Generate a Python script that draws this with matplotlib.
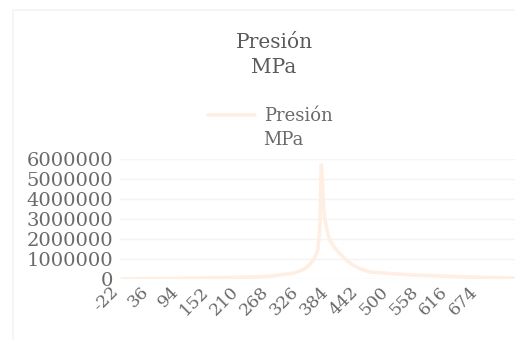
import numpy as np
import matplotlib.pyplot as plt
import matplotlib.transforms as mtransforms
from matplotlib.patches import Rectangle
from matplotlib.legend_handler import HandlerLine2D

# temperatura (eje x) y presión
temperatura = [-22, 60, 128, 190, 234, 270, 283, 312, 330, 341, 350, 357, 361, 364,
               367, 370, 375, 380, 390, 399, 412, 425, 440, 458, 493, 540, 597, 660, 739]
presion = [0, 20000, 50000, 80000, 100000, 150000, 200000, 300000, 480000, 700000,
           1000000, 1450000, 2500000, 5700000, 4200000, 3100000, 2400000, 1950000,
           1550000, 1300000, 950000, 700000, 500000, 350000, 280000, 200000, 150000,
           90000, 50000]

xticks = list(range(-22, 675, 58))
yticks = [0, 1000000, 2000000, 3000000, 4000000, 5000000, 6000000]

serie = "Presión\nMPa"
color_linea = "#ffeee2"
color_texto = "#6a6a6a"


# la muestra de la leyenda va a la altura de la primera línea del texto
class HandlerArriba(HandlerLine2D):
    def create_artists(self, legend, orig_handle, xdescent, ydescent, width,
                       height, fontsize, trans):
        artists = super().create_artists(legend, orig_handle, xdescent, ydescent,
                                         width, height, fontsize, trans)
        for a in artists:
            a.set_ydata(np.asarray(a.get_ydata()) + 0.75 * fontsize)
        return artists


plt.rcParams["font.family"] = ["DejaVu Serif"]

fig = plt.figure(figsize=(5.15, 3.4), dpi=100)
# marco tenue de la figura
fig.patches.append(Rectangle((13 / 515, -0.1), 1.2, (330 / 340) + 0.1,
                             transform=fig.transFigure, fill=False,
                             edgecolor="#f4f4f4", linewidth=1.2))

ax = fig.add_axes([120 / 515, 61 / 340, 395 / 515, 120 / 340])
ax.plot(temperatura, presion, color=color_linea, linewidth=2.6, label=serie,
        solid_capstyle="round", solid_joinstyle="round")

ax.set_xlim(-26, 739)
ax.set_ylim(0, 6000000)
ax.set_xticks(xticks)
ax.set_xticklabels([str(t) for t in xticks], rotation=45, ha="right", va="top",
                   fontsize=12.5, color=color_texto)
desplazar = mtransforms.ScaledTranslation(4 / 100, 0, fig.dpi_scale_trans)
for lab in ax.get_xticklabels():
    lab.set_transform(lab.get_transform() + desplazar)
ax.set_yticks(yticks)
ax.set_yticklabels([str(v) for v in yticks], fontsize=14, color=color_texto,
                   va="center_baseline")
ax.tick_params(axis="both", length=0)
ax.tick_params(axis="y", pad=5)
ax.tick_params(axis="x", pad=3)
ax.grid(axis="y", color="#f4f4f4", linewidth=1)
ax.set_axisbelow(True)
for s in ax.spines.values():
    s.set_visible(False)

fig.text(274 / 515, 1 - 55 / 340, serie, ha="center", va="center",
         fontsize=14.5, color="#5a5a5a", multialignment="center", linespacing=1.45)

leg = ax.legend(loc="center", bbox_to_anchor=(270 / 515, 1 - 128 / 340),
                bbox_transform=fig.transFigure, frameon=False, fontsize=13,
                labelcolor=color_texto, handlelength=2.6, handletextpad=0.5,
                handler_map={plt.Line2D: HandlerArriba()})
for t in leg.get_texts():
    t.set_linespacing(1.45)

fig.savefig("out.png", dpi=100)
